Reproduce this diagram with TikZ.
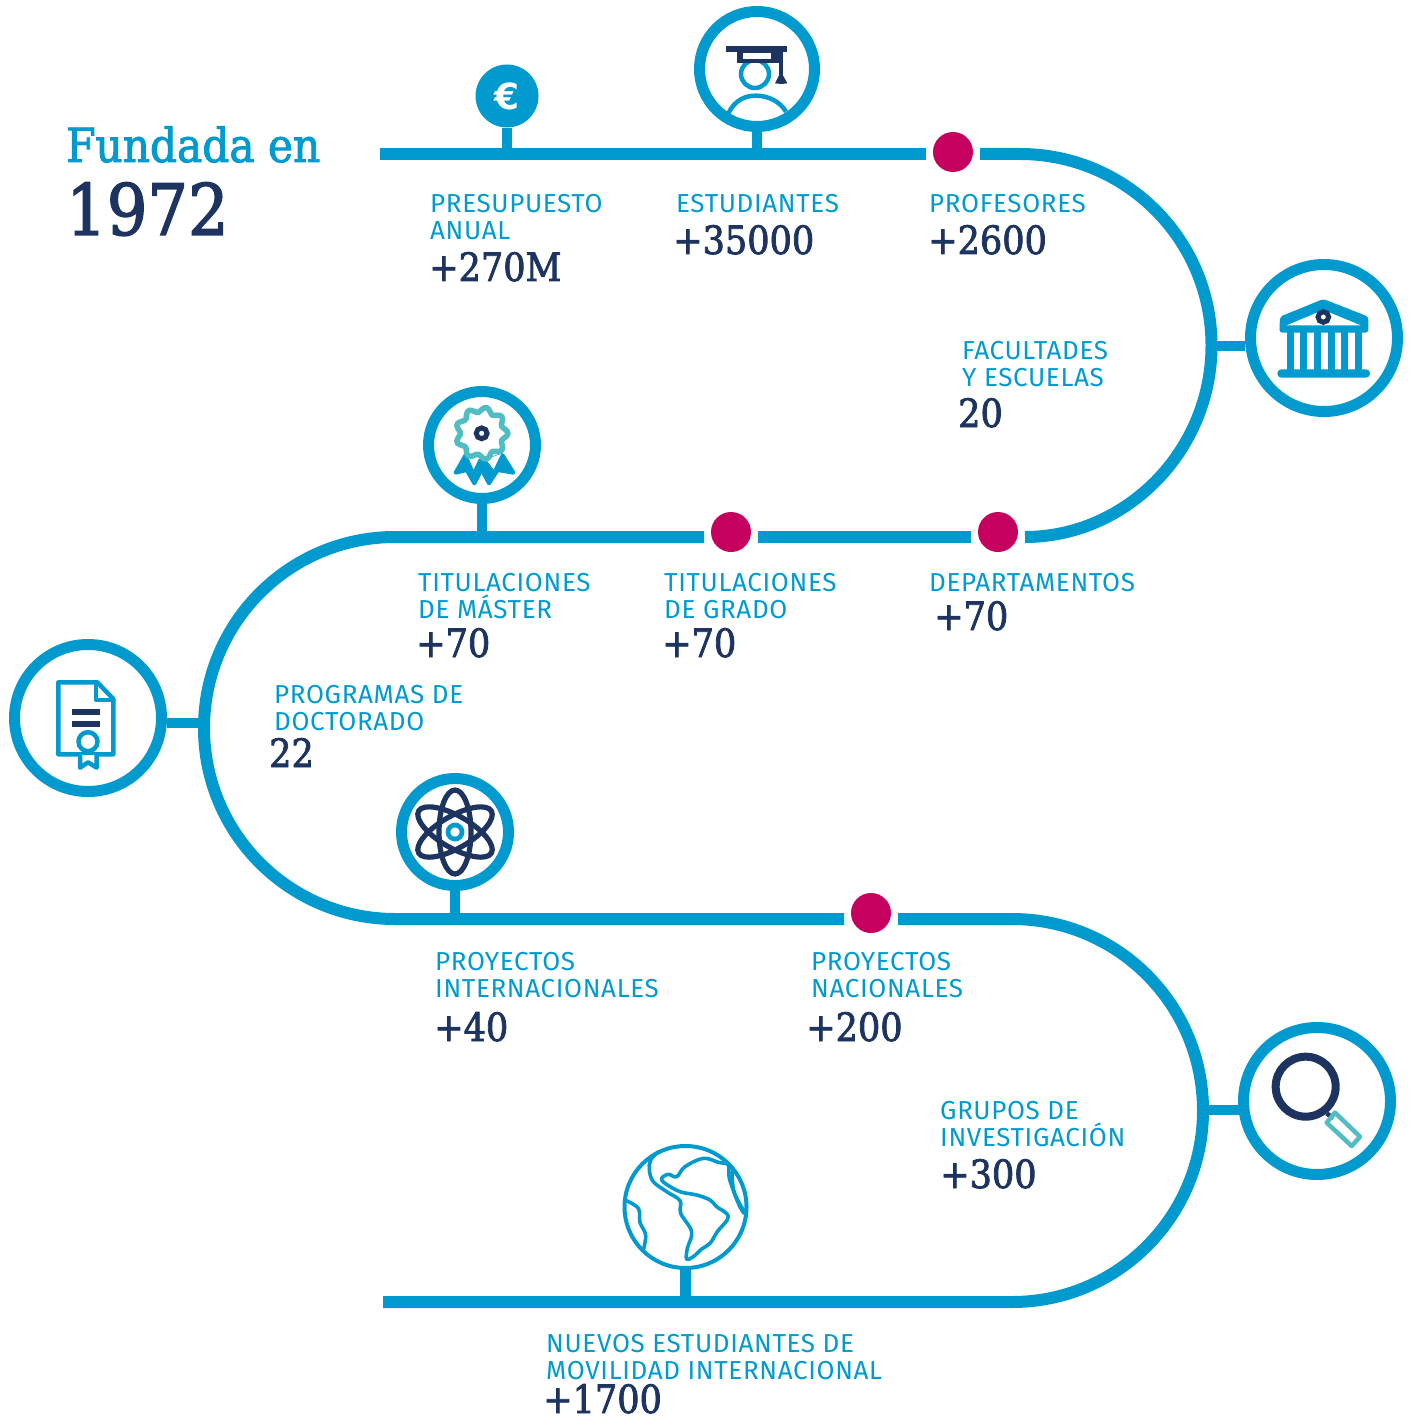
\documentclass[tikz,border=0pt]{standalone}
\usepackage{fontspec}
\setmainfont{Fira Sans}
\newfontfamily\labfont[LetterSpace=2.5]{Fira Sans}
\newfontfamily\slabfont[FakeStretch=0.9,FakeBold=2]{DejaVu Serif}
\newfontfamily\eurofont{DejaVu Sans Bold}
\definecolor{cblue}{HTML}{009ACF}
\definecolor{cnavy}{HTML}{1D3461}
\definecolor{cmag}{HTML}{C6005F}
\definecolor{cteal}{HTML}{4FBDC2}
\tikzset{
 road/.style={draw=cblue,line width=12pt},
 stem/.style={draw=cblue,line width=10.5pt},
 ring/.style={circle,draw=cblue,line width=11pt,fill=white,inner sep=0pt},
 dot/.style={circle,fill=cmag,inner sep=0pt,minimum size=40pt,outer sep=7pt},
 lab/.style={anchor=north west,inner sep=0pt,align=left,text=cblue,font=\labfont\fontsize{26}{27}\selectfont},
 val/.style={anchor=base west,inner sep=0pt,text=cnavy,font=\slabfont\fontsize{39}{40}\selectfont},
 iconb/.style={draw=cblue,line width=4.5pt,line join=round,line cap=round},
 iconn/.style={draw=cnavy,line width=5.2pt,line join=round,line cap=round},
 zoomed/.style={x=0.33333pt,y=-0.33333pt},
}
\begin{document}
\begin{tikzpicture}[x=1pt,y=-1pt]
\useasboundingbox (0,0) rectangle (1413,1420);
% anchors on the road
\coordinate (r1s) at (380,154);
\coordinate (r1e) at (1020,154);
\coordinate (r2e) at (1020,537);
\coordinate (r2w) at (395,537);
\coordinate (r3w) at (395,919);
\coordinate (r3e) at (1012,919);
\coordinate (r4e) at (1012,1302);
\coordinate (r4s) at (383,1302);
% dots
\node[dot] (d1) at (953,152) {};
\node[dot] (d2) at (731,532) {};
\node[dot] (d3) at (998,532) {};
\node[dot] (d4) at (871,913) {};
% road
\draw[road] (r1s) -- (d1.west |- r1s);
\draw[road] (d1.east |- r1e) -- (r1e) .. controls (1125.8,154) and (1211.5,239.7) .. (1211.5,345.5) .. controls (1211.5,451.3) and (1125.8,537) .. (d3.east |- r2e);
\draw[road] (d3.west |- r2e) -- (d2.east |- r2e);
\draw[road] (d2.west |- r2e) -- (r2w) .. controls (289.5,537) and (204,622.5) .. (204,728) .. controls (204,833.5) and (289.5,919) .. (r3w) -- (d4.west |- r3w);
\draw[road] (d4.east |- r3e) -- (r3e) .. controls (1117.8,919) and (1203,1004.8) .. (1203,1110.5) .. controls (1203,1216.2) and (1117.8,1302) .. (r4e) -- (r4s);
% icon circles
\node[circle,fill=cblue,minimum size=63pt,inner sep=0pt,text=white,font=\eurofont\fontsize{36}{36}\selectfont] (euro) at (507,96) {€};
\node[ring,minimum size=115pt] (stud) at (757,69) {};
\node[ring,minimum size=147pt] (bank) at (1324,338) {};
\node[ring,minimum size=107pt] (rose) at (482,445) {};
\node[ring,minimum size=147pt] (docu) at (88,718) {};
\node[ring,minimum size=107pt] (atom) at (455,832) {};
\node[ring,minimum size=147pt] (magn) at (1317,1101) {};
\node[circle,draw=cblue,line width=4pt,fill=white,inner sep=0pt,minimum size=122pt] (glob) at (685.5,1207) {};
% stems
\draw[stem] (euro.south) -- (euro.south |- r1s);
\draw[stem] (stud.south) -- (stud.south |- r1s);
\draw[stem] (rose.south) -- (rose.south |- r2w);
\draw[stem] (atom.south) -- (atom.south |- r3w);
\draw[stem] (glob.south) -- (glob.south |- r4s);
\coordinate (bk) at (1211,346);
\coordinate (dk) at (204,723);
\coordinate (mk) at (1203,1110);
\draw[stem] (bank.186 |- bk) -- (bk);
\draw[stem] (docu.-4 |- dk) -- (dk);
\draw[stem] (magn.187 |- mk) -- (mk);
% student icon
\begin{scope}[shift={(680,0)},zoomed]
 \draw[draw=cblue,line width=4.5pt] (225,222) circle (14pt);
 \fill[cnavy] (172,150) rectangle (305,190);
 \fill[white] (188,160) rectangle (272,176);
 \fill[cnavy] (138,138) rectangle (322,155);
 \fill[cnavy] (297,150) rectangle (309,235);
 \fill[cnavy] (296,228) -- (310,228) -- (322,250) -- (304,252) -- (285,250) -- cycle;
 \draw[draw=cblue,line width=4.5pt] (145,340) .. controls (165,300) and (195,287) .. (228,287) .. controls (265,287) and (300,305) .. (318,335);
\end{scope}
% bank icon
\begin{scope}[shift={(1240,255)},zoomed]
 \fill[cblue,rounded corners=3pt] (120,185) -- (250,132) -- (385,185) -- (385,233) -- (118,233) -- cycle;
 \fill[white] (140,211) -- (250,165) -- (362,211) -- cycle;
 \foreach \cx in {140,181,222,263,304,345} \fill[cblue] (\cx,230) rectangle ({\cx+21},350);
 \fill[cblue,rounded corners=4pt] (112,343) rectangle (390,368);
 \draw[draw=cnavy,line width=5pt] (250,186) circle (5.3pt);
\end{scope}
% rosette icon
\begin{scope}[shift={(415,380)},zoomed]
 \fill[cblue,draw=cblue,line width=4pt,line join=round] (152,225) -- (122,278) -- (155,270) -- (178,310) -- (210,250) -- cycle;
 \fill[cblue,draw=cblue,line width=4pt,line join=round] (262,225) -- (295,278) -- (248,270) -- (222,310) -- (190,250) -- cycle;
 \fill[white] (155,222) -- (176,268) -- (192,235) -- cycle;
 \fill[white] (212,238) -- (236,268) -- (258,222) -- cycle;
 \draw[draw=cteal,fill=white,line width=5.5pt] plot[smooth cycle,samples=73,domain=0:355] ({200+(71+7.5*cos(9*\x))*cos(\x)},{160+(71+7.5*cos(9*\x))*sin(\x)});
 \draw[draw=cnavy,line width=5pt] (200,160) circle (5.4pt);
\end{scope}
% document icon
\begin{scope}[shift={(0,635)},zoomed]
 \draw[iconb] (175,142) -- (292,142) -- (340,192) -- (340,358) -- (175,358) -- cycle;
 \draw[iconb] (288,145) -- (288,195) -- (340,195);
 \fill[cnavy] (216,222) rectangle (300,240);
 \fill[cnavy] (216,258) rectangle (300,275);
 \draw[iconb,fill=white] (240,360) -- (240,398) -- (264,382) -- (290,398) -- (290,360);
 \draw[iconb,fill=white] (264,320) circle (9.5pt);
\end{scope}
% atom icon
\draw[iconn] (atom.center) ellipse [x radius=16pt,y radius=42pt];
\draw[iconn,rotate around={60:(atom.center)}] (atom.center) ellipse [x radius=16pt,y radius=42pt];
\draw[iconn,rotate around={-60:(atom.center)}] (atom.center) ellipse [x radius=16pt,y radius=42pt];
\draw[draw=cblue,line width=4.7pt] (atom.center) circle (7pt);
% magnifier icon
\begin{scope}[shift={(1235,1020)},zoomed]
 \draw[draw=cnavy,line width=4.5pt] (275,280) -- (295,295);
 \draw[draw=cnavy,line width=8pt] (212,200) circle (30pt);
 \draw[draw=cteal,line width=4.5pt,line join=round] (300,278) -- (375,350) -- (350,378) -- (275,308) -- cycle;
\end{scope}
% globe icon
\begin{scope}[shift={(610,1135)},zoomed]
 \draw[draw=cblue,line width=3.6pt,line join=round,line cap=round] plot[smooth,tension=0.6] coordinates {(145,50) (122,75) (118,105) (130,140) (170,170) (210,197) (212,235) (245,290) (232,340) (230,372) (250,365) (275,342) (300,325) (322,290) (355,245) (320,215) (300,195) (260,180) (210,170) (165,145) (155,130) (175,118) (200,125) (225,95) (280,70) (325,82) (355,90) (358,130) (385,205) (402,235)};
 \draw[draw=cblue,line width=3.6pt,line cap=round] plot[smooth,tension=0.6] coordinates {(366,110) (372,170) (400,225)};
 \draw[draw=cblue,line width=3.6pt,line cap=round] plot[smooth,tension=0.6] coordinates {(45,195) (85,220) (90,262) (107,300) (100,345)};
\end{scope}
% title
\node[anchor=base west,inner sep=0pt,text=cblue,font=\slabfont\fontsize{47}{48}\selectfont] (t1) at (66,162) {Fundada en};
\node[anchor=base west,inner sep=0pt,text=cnavy,font=\slabfont\fontsize{71}{73}\selectfont] (t2) at (66,235) {1972};
% labels
\node[lab] (l1) at (430,194) {PRESUPUESTO\\ANUAL};
\node[val] (v1) at (429,281) {+270M};
\node[lab] (l2) at (676,194) {ESTUDIANTES};
\node[val] (v2) at (673,254) {+35000};
\node[lab] (l3) at (929,194) {PROFESORES};
\node[val] (v3) at (928,254) {+2600};
\node[lab] (l4) at (962,341) {FACULTADES\\Y ESCUELAS};
\node[val] (v4) at (958,427) {20};
\node[lab] (l5) at (418,573) {TITULACIONES\\DE MÁSTER};
\node[val] (v5) at (416,657) {+70};
\node[lab] (l6) at (664,573) {TITULACIONES\\DE GRADO};
\node[val] (v6) at (662,657) {+70};
\node[lab] (l7) at (929,573) {DEPARTAMENTOS};
\node[val] (v7) at (934,630) {+70};
\node[lab] (l8) at (274,685) {PROGRAMAS DE\\DOCTORADO};
\node[val] (v8) at (269,767) {22};
\node[lab] (l9) at (435,952) {PROYECTOS\\INTERNACIONALES};
\node[val] (v9) at (434,1041) {+40};
\node[lab] (l10) at (811,952) {PROYECTOS\\NACIONALES};
\node[val] (v10) at (806,1041) {+200};
\node[lab] (l11) at (940,1101) {GRUPOS DE\\INVESTIGACIÓN};
\node[val] (v11) at (940,1188) {+300};
\node[lab] (l12) at (546,1334) {NUEVOS ESTUDIANTES DE\\MOVILIDAD INTERNACIONAL};
\node[val] (v12) at (543,1413) {+1700};
\end{tikzpicture}
\end{document}
